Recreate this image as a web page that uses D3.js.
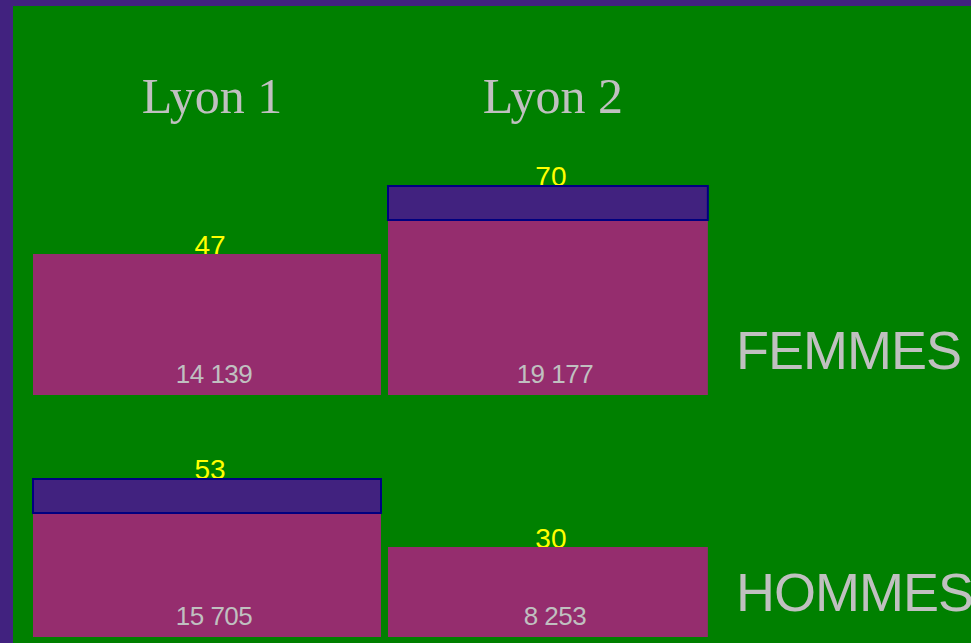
<!DOCTYPE html>
<html>
<head>
<meta charset="utf-8">
<script src="https://cdn.jsdelivr.net/npm/d3@7"></script>
<style>
  body { margin: 0; background: #41227f; overflow: hidden; }
  text { font-family: "Liberation Sans", Arial, sans-serif; }
</style>
</head>
<body>
<svg id="mosaic"></svg>
<script>
// ---------- data ----------
const universites = ['Lyon 1', 'Lyon 2'];
const groupes = ['FEMMES', 'HOMMES'];
const effectifsFemmes = [14139, 19177];
const effectifsHommes = [15705, 8253];
const pctFemmes = [47, 70];
const pctHommes = [53, 30];

const width = 971,
      height = 643,
      left = 33,
      gap = 7,
      stripH = 36;

const svg = d3.select('svg#mosaic')
    .attr('width', width)
    .attr('height', height);

svg.append('rect')
    .attr('x', 13).attr('y', 6)
    .attr('width', width).attr('height', height)
    .attr('fill', '#008000');

const fr = d3.formatLocale({decimal: ',', thousands: ' ', grouping: [3], currency: ['', ' €']});
const fmt = fr.format(',d');

//----- table built from the arrays
const totals = universites.map((u, i) => effectifsFemmes[i] + effectifsHommes[i]);
const cells = [];
universites.forEach((u, i) => {
  cells.push({u: u, g: 'FEMMES', n: effectifsFemmes[i], pct: pctFemmes[i]});
  cells.push({u: u, g: 'HOMMES', n: effectifsHommes[i], pct: pctHommes[i]});
});

//----- scales
const wScale = d3.scaleLinear().domain([0, d3.max(totals)]).range([0, 348]);
const xStart = {};
let acc = left;
universites.forEach((u, i) => { xStart[u] = acc; acc += wScale(totals[i]) + gap; });
const colW = u => wScale(totals[universites.indexOf(u)]);
const hScale = d3.scaleLinear().domain([0, 100]).range([0, 300]);
const rowBase = d3.scalePoint().domain(groupes).range([395, 637]);

const isMajor = d => d.pct > 50;

//----- column titles
svg.selectAll('text.univ')
  .data(universites)
  .join('text')
    .classed('univ', true)
    .attr('x', u => xStart[u] + colW(u) / 2 + 5)
    .attr('y', 113)
    .attr('text-anchor', 'middle')
    .style('font-family', '"Liberation Serif", "Times New Roman", serif')
    .style('font-size', '50px')
    .attr('fill', '#c0c0c0')
    .text(u => u);

//----- percentages (drawn first, bars cover their foot)
svg.selectAll('text.pct')
  .data(cells)
  .join('text')
    .classed('pct', true)
    .attr('x', d => xStart[d.u] + colW(d.u) / 2 + 3)
    .attr('y', d => rowBase(d.g) - hScale(d.pct) + 1)
    .attr('text-anchor', 'middle')
    .style('font-size', '28px')
    .attr('fill', '#ffff00')
    .text(d => d.pct);

//----- bars
svg.selectAll('rect.bar')
  .data(cells)
  .join('rect')
    .classed('bar', true)
    .attr('x', d => xStart[d.u])
    .attr('y', d => rowBase(d.g) - hScale(d.pct) + (isMajor(d) ? stripH : 0))
    .attr('width', d => colW(d.u))
    .attr('height', d => hScale(d.pct) - (isMajor(d) ? stripH : 0))
    .attr('fill', '#952d6e');

//----- highlight strip on majority
svg.selectAll('rect.strip')
  .data(cells.filter(isMajor))
  .join('rect')
    .classed('strip', true)
    .attr('x', d => xStart[d.u])
    .attr('y', d => rowBase(d.g) - hScale(d.pct) + 1)
    .attr('width', d => colW(d.u))
    .attr('height', stripH - 2)
    .attr('fill', '#41227f')
    .attr('stroke', '#000080')
    .attr('stroke-width', 2);

//----- counts
svg.selectAll('text.count')
  .data(cells)
  .join('text')
    .classed('count', true)
    .attr('x', d => xStart[d.u] + colW(d.u) / 2 + 7)
    .attr('y', d => rowBase(d.g) - 12)
    .attr('text-anchor', 'middle')
    .style('font-size', '26px')
    .style('letter-spacing', '-0.5px')
    .attr('fill', '#c0c0c0')
    .text(d => fmt(d.n));

//----- row labels
svg.selectAll('text.groupe')
  .data(groupes)
  .join('text')
    .classed('groupe', true)
    .attr('x', 736)
    .attr('y', g => rowBase(g) - 26)
    .style('font-size', '54px')
    .style('letter-spacing', '-1px')
    .attr('fill', '#c0c0c0')
    .text(g => g);
</script>
</body>
</html>
